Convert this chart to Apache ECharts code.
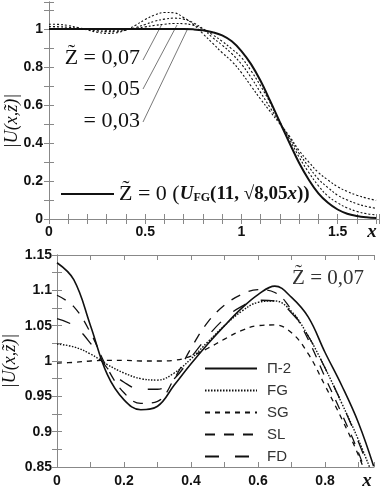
<!DOCTYPE html>
<html>
<head>
<meta charset="utf-8">
<script src="https://cdn.jsdelivr.net/npm/echarts@6/dist/echarts.min.js"></script>
<style>
html, body {margin: 0; padding: 0; background: #fff;}
#chart {width: 382px; height: 490px;}
</style>
</head>
<body>
<div id="chart"></div>
<script>
// top panel: |U(x,z)| of the flat-top beam at several distances z
var topX = [0, 0.05, 0.1, 0.15, 0.2, 0.25, 0.3, 0.35, 0.4, 0.45, 0.5, 0.55, 0.6, 0.65, 0.7, 0.75, 0.8, 0.85,
    0.9, 0.95, 1.0, 1.05, 1.1, 1.15, 1.2, 1.25, 1.3, 1.35, 1.4, 1.45, 1.5, 1.55, 1.6, 1.65, 1.7];
var z000 = [1, 1, 1, 1, 1, 1, 1, 1, 1, 1, 1, 1, 1, 1, 1.0, 0.998, 0.993, 0.983,
    0.966, 0.935, 0.884, 0.815, 0.726, 0.62, 0.509, 0.40, 0.295, 0.207, 0.135, 0.085, 0.05, 0.028, 0.016, 0.009, 0.005];
var z003 = [1.004, 1.004, 1.003, 1.001, 0.999, 0.996, 0.994, 0.994, 0.997, 1.003, 1.011, 1.019, 1.025, 1.029, 1.028, 1.02, 1.0, 0.97,
    0.935, 0.895, 0.85, 0.78, 0.70, 0.61, 0.51, 0.42, 0.325, 0.245, 0.175, 0.12, 0.085, 0.058, 0.04, 0.028, 0.021];
var z005 = [1.013, 1.012, 1.009, 1.004, 0.997, 0.99, 0.986, 0.987, 0.994, 1.007, 1.024, 1.041, 1.052, 1.057, 1.052, 1.033, 1.0, 0.955,
    0.915, 0.87, 0.815, 0.745, 0.665, 0.585, 0.505, 0.43, 0.345, 0.275, 0.21, 0.165, 0.125, 0.1, 0.08, 0.066, 0.056];
var z007 = [1.025, 1.024, 1.018, 1.008, 0.995, 0.983, 0.977, 0.98, 0.995, 1.02, 1.05, 1.074, 1.087, 1.085, 1.06, 1.025, 0.975, 0.925,
    0.875, 0.83, 0.77, 0.70, 0.63, 0.565, 0.50, 0.435, 0.36, 0.30, 0.245, 0.205, 0.17, 0.145, 0.125, 0.11, 0.098];

// bottom panel: z = 0,07, different approximations
var botX = [0, 0.05, 0.1, 0.15, 0.2, 0.25, 0.3, 0.35, 0.4, 0.45, 0.5, 0.55, 0.6, 0.65, 0.7, 0.75, 0.8, 0.85, 0.9, 0.945];
var p2 = [1.139, 1.115, 1.05, 0.981, 0.945, 0.931, 0.936, 0.966, 0.996, 1.024, 1.05, 1.074, 1.094, 1.106, 1.09, 1.062, 1.012, 0.965, 0.912, 0.851];
var fg = [1.024, 1.02, 1.01, 0.995, 0.983, 0.975, 0.973, 0.983, 1.003, 1.027, 1.05, 1.07, 1.083, 1.085, 1.07, 1.035, 0.99, 0.94, 0.888, 0.835];
var sg = [0.997, 0.998, 1.0, 1.001, 1.001, 1.0, 1.0, 1.001, 1.007, 1.018, 1.031, 1.043, 1.05, 1.051, 1.04, 1.01, 0.965, 0.918, 0.866, 0.81];
var sl = [1.093, 1.077, 1.04, 0.99, 0.955, 0.94, 0.943, 0.975, 1.018, 1.055, 1.079, 1.094, 1.101, 1.097, 1.072, 1.03, 0.977, 0.925, 0.87, 0.81];
var fd = [1.06, 1.05, 1.025, 0.99, 0.97, 0.96, 0.96, 0.975, 1.005, 1.035, 1.06, 1.077, 1.086, 1.085, 1.068, 1.035, 0.99, 0.94, 0.885, 0.83];
var botNames = ['П-2', 'FG', 'SG', 'SL', 'FD'];

var topTicksX = [0, 0.5, 1, 1.5];
var topTicksY = [0, 0.2, 0.4, 0.6, 0.8, 1];
var botTicksX = [0, 0.2, 0.4, 0.6, 0.8];
var botTicksY = [0.85, 0.9, 0.95, 1, 1.05, 1.1, 1.15];

function zip(xs, ys) {
    return xs.map(function (x, i) { return [x, ys[i]]; });
}
function only(list) {
    return function (v) {
        for (var i = 0; i < list.length; i++) {
            if (Math.abs(v - list[i]) < 1e-6) return String(list[i]);
        }
        return '';
    };
}

var frame = '#888';
var labelFont = {fontFamily: 'Liberation Sans', fontWeight: 'bold', fontSize: 14, color: '#111'};
var noSymbol = {color: 'rgba(0,0,0,0)', borderColor: 'rgba(0,0,0,0)', borderWidth: 0, opacity: 0};

function axis(extra) {
    var a = {
        type: 'value',
        axisLine: {show: true, lineStyle: {color: frame, width: 1}},
        axisTick: {show: true, inside: true, length: 5, lineStyle: {color: frame}},
        splitLine: {show: false},
        axisLabel: {show: false}
    };
    return Object.assign(a, extra);
}

function line(name, data, xi, yi, width, type) {
    return {
        name: name, type: 'line', xAxisIndex: xi, yAxisIndex: yi,
        data: data, symbol: 'none', smooth: 0.4, animation: false,
        itemStyle: {color: '#111'},
        lineStyle: {color: '#111', width: width, type: type}
    };
}

var chart = echarts.init(document.getElementById('chart'));

var option = {
    backgroundColor: '#fff',
    animation: false,
    grid: [
        {left: 49, top: 2, right: 1, height: 217},
        {left: 57, top: 255, right: 8, bottom: 23}
    ],
    xAxis: [
        axis({gridIndex: 0, position: 'bottom', min: 0, max: 1.715, interval: 0.1,
            axisLabel: Object.assign({show: true, margin: 6, formatter: only(topTicksX)}, labelFont)}),
        axis({gridIndex: 0, position: 'top', min: 0, max: 1.715, interval: 0.1}),
        axis({gridIndex: 1, position: 'bottom', min: 0, max: 0.946, interval: 0.1,
            axisLabel: Object.assign({show: true, margin: 7, formatter: only(botTicksX)}, labelFont)}),
        axis({gridIndex: 1, position: 'top', min: 0, max: 0.946, interval: 0.1})
    ],
    yAxis: [
        axis({gridIndex: 0, position: 'left', min: 0, max: 1.142, interval: 0.1,
            axisLabel: Object.assign({show: true, margin: 6, formatter: only(topTicksY)}, labelFont)}),
        axis({gridIndex: 0, position: 'right', min: 0, max: 1.142, interval: 0.1}),
        axis({gridIndex: 1, position: 'left', min: 0.85, max: 1.15, interval: 0.025,
            axisLabel: Object.assign({show: true, margin: 5, formatter: only(botTicksY)}, labelFont)}),
        axis({gridIndex: 1, position: 'right', min: 0.85, max: 1.15, interval: 0.025})
    ],
    legend: [
        {
            data: ['z0'], left: 60, top: 183, padding: 0, itemWidth: 53, itemHeight: 24, selectedMode: false,
            itemStyle: noSymbol,
            formatter: function () {
                return '{r|Z\u0303 = 0 (}{bi|U}{sub|FG}{b|(11, \u221a8,05}{bi|x}{b|))}';
            },
            textStyle: {
                padding: [0, 0, 0, 0],
                rich: {
                    r: {fontFamily: 'Liberation Serif', fontSize: 22, color: '#111'},
                    bi: {fontFamily: 'Liberation Serif', fontSize: 19, fontWeight: 'bold', fontStyle: 'italic', color: '#111'},
                    b: {fontFamily: 'Liberation Serif', fontSize: 19, fontWeight: 'bold', color: '#111'},
                    sub: {fontFamily: 'Liberation Serif', fontSize: 12, fontWeight: 'bold', color: '#111', padding: [8, 0, 0, 0]}
                }
            }
        },
        {
            data: botNames, orient: 'vertical', left: 204, top: 361, padding: 0, itemWidth: 52, itemHeight: 14, itemGap: 7,
            selectedMode: false,
            itemStyle: noSymbol,
            textStyle: {fontFamily: 'Liberation Sans', fontSize: 15, color: '#333', padding: [0, 0, 0, 5]}
        }
    ],
    series: [
        line('z0', zip(topX, z000), 0, 0, 2, 'solid'),
        line('z003', zip(topX, z003), 0, 0, 1.1, [2, 2]),
        line('z005', zip(topX, z005), 0, 0, 1.1, [2, 2]),
        line('z007', zip(topX, z007), 0, 0, 1.1, [2, 2]),
        line('П-2', zip(botX, p2), 2, 2, 1.6, 'solid'),
        line('FG', zip(botX, fg), 2, 2, 1.4, [1.5, 1.5]),
        line('SG', zip(botX, sg), 2, 2, 1.3, [5, 5]),
        line('SL', zip(botX, sl), 2, 2, 1.3, [10, 9]),
        line('FD', zip(botX, fd), 2, 2, 1.3, [14, 16])
    ],
    graphic: [
        // leader lines to the z curves
        {type: 'line', shape: {x1: 143, y1: 60, x2: 162, y2: 24}, style: {stroke: '#555', lineWidth: 0.8}},
        {type: 'line', shape: {x1: 143, y1: 89, x2: 177, y2: 25}, style: {stroke: '#555', lineWidth: 0.8}},
        {type: 'line', shape: {x1: 143, y1: 122, x2: 188, y2: 28}, style: {stroke: '#555', lineWidth: 0.8}},
        {type: 'text', x: 140, y: 58, style: {text: 'Z\u0303 = 0,07', font: '22px "Liberation Serif"', fill: '#111', textAlign: 'right', textVerticalAlign: 'middle'}},
        {type: 'text', x: 140, y: 89, style: {text: '= 0,05', font: '22px "Liberation Serif"', fill: '#111', textAlign: 'right', textVerticalAlign: 'middle'}},
        {type: 'text', x: 140, y: 121, style: {text: '= 0,03', font: '22px "Liberation Serif"', fill: '#111', textAlign: 'right', textVerticalAlign: 'middle'}},
        {type: 'text', x: 364, y: 278, style: {text: 'Z\u0303 = 0,07', font: '21px "Liberation Serif"', fill: '#333', textAlign: 'right', textVerticalAlign: 'middle'}},
        {type: 'text', x: 12, y: 121, rotation: Math.PI / 2, style: {text: '|U(x,z\u0303)|', font: 'italic 18px "Liberation Serif"', fill: '#111', textAlign: 'center', textVerticalAlign: 'middle'}},
        {type: 'text', x: 10, y: 361, rotation: Math.PI / 2, style: {text: '|U(x,z\u0303)|', font: 'italic 18px "Liberation Serif"', fill: '#111', textAlign: 'center', textVerticalAlign: 'middle'}},
        {type: 'text', x: 372, y: 232, style: {text: 'x', font: 'italic bold 19px "Liberation Serif"', fill: '#111', textAlign: 'center', textVerticalAlign: 'middle'}},
        {type: 'text', x: 367, y: 481, style: {text: 'x', font: 'italic bold 19px "Liberation Serif"', fill: '#111', textAlign: 'center', textVerticalAlign: 'middle'}}
    ]
};

chart.setOption(option);
</script>
</body>
</html>
